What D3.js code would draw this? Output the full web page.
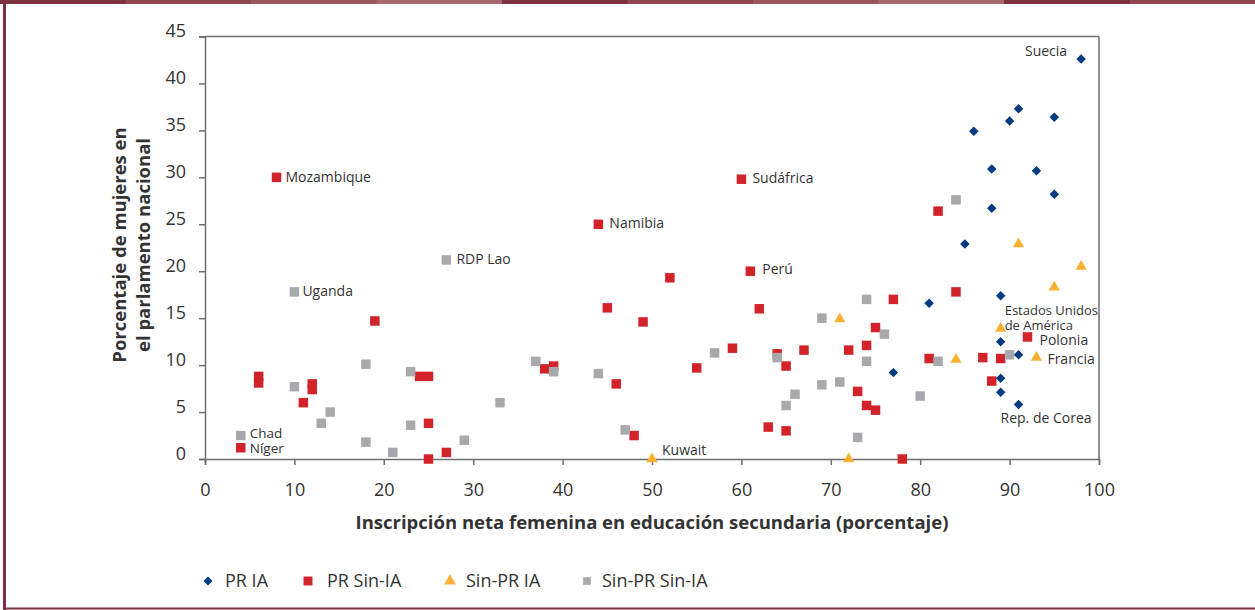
<!DOCTYPE html>
<html><head><meta charset="utf-8">
<script src="https://cdn.jsdelivr.net/npm/d3@7"></script>
<style>
html,body{margin:0;padding:0;background:#fff;}
svg{display:block;font-family:"Open Sans","Noto Sans",sans-serif;}
</style></head>
<body><svg id="c" width="1255" height="610"></svg>
<script>
// ---- data ----
const seriesNames = ["PR IA", "PR Sin-IA", "Sin-PR IA", "Sin-PR Sin-IA"];
const xTicks = [0,10,20,30,40,50,60,70,80,90,100];
const yTicks = [0,5,10,15,20,25,30,35,40,45];

const prIA = [
  [98,42.6],[91,37.3],[90,36],[95,36.4],[86,34.9],[88,30.9],[93,30.7],[95,28.2],
  [88,26.7],[85,22.9],[89,17.4],[81,16.6],[89,12.5],[91,11.1],[77,9.2],[89,8.6],
  [89,7.1],[91,5.8]
];
const prSinIA = [
  [8,30],[44,25],[60,29.8],[61,20],[52,19.3],[45,16.1],[49,14.6],[62,16],[59,11.8],
  [64,11.2],[65,9.9],[55,9.7],[38,9.6],[39,9.9],[46,8],[48,2.5],[63,3.4],[65,3],
  [6,8.8],[6,8.1],[12,8],[12,7.4],[11,6],[19,14.7],[24,8.8],[25,8.8],[25,3.8],
  [25,0],[27,0.7],[4,1.2],[67,11.6],[72,11.6],[74,12.1],[75,14],[77,17],[73,7.2],
  [74,5.7],[75,5.2],[78,0],[81,10.7],[84,17.8],[87,10.8],[89,10.7],[88,8.3],
  [92,13],[82,26.4]
];
const sinPrIA = [
  [50,0],[72,0],[71,14.9],[84,10.6],[89,13.9],[93,10.8],[95,18.3],[98,20.5],[91,22.9]
];
const sinPrSinIA = [
  [27,21.2],[10,17.8],[4,2.5],[10,7.7],[18,10.1],[23,9.3],[14,5],[13,3.8],[18,1.8],
  [21,0.7],[23,3.6],[29,2],[33,6],[37,10.4],[39,9.3],[44,9.1],[47,3.1],[57,11.3],
  [64,10.8],[65,5.7],[66,6.9],[69,15],[74,17],[76,13.3],[74,10.4],[69,7.9],[71,8.2],
  [73,2.3],[80,6.7],[82,10.4],[90,11.1],[84,27.6]
];
// labelled countries
const labelNames = [
  ["Suecia"], ["Mozambique"], ["Sudáfrica"], ["Namibia"], ["Perú"], ["RDP Lao"],
  ["Uganda"], ["Chad"], ["Níger"], ["Kuwait"], ["Estados Unidos","de América"],
  ["Polonia"], ["Francia"], ["Rep. de Corea"]
];
const labelPoints = [
  [98,42.6],[8,30],[60,29.8],[44,25],[61,20],[27,21.2],[10,17.8],[4,2.5],[4,1.2],
  [50,0],[89,13.9],[92,13],[93,10.8],[91,5.8]
];

// ---- layout / style ----
const labelOffsets = [
  [-14,-8,"end",14],[9,0,"start",14],[11,-1,"start",14],[11,-1,"start",14],[12,-2,"start",14],
  [10,-1,"start",14],[8,-1,"start",14],[9,-2,"start",13.5],[9,0.5,"start",13.5],[10,-9,"start",14],
  [4,-18,"start",13],[12,3,"start",14],[11,1,"start",14],[-18,13.5,"start",14]
];
const colors = ["#003a80","#d2232a","#fbb034","#a7a9ac"];
const axisGray = "#6d6e71";
const textCol = "#333333";

const svg = d3.select("#c");
const x = d3.scaleLinear().domain([0,100]).range([205,1099]);
const y = d3.scaleLinear().domain([0,45]).range([459,36.5]);

// frame
const frameCols = ["#7e3140","#8f4552","#9c5762","#a6696f"];
const segW = 125.5;
svg.selectAll("rect.seg").data(d3.range(10)).join("rect")
  .attr("x", i => i*segW).attr("y",0).attr("width", segW+0.5).attr("height",4)
  .attr("fill", i => frameCols[i%4]);
svg.append("rect").attr("x",3).attr("y",0).attr("width",3).attr("height",610).attr("fill","#7e3140");
svg.append("rect").attr("x",3).attr("y",607.5).attr("width",1252).attr("height",2).attr("fill","#7e3140");

// plot box top & right
svg.append("line").attr("x1",x(0)).attr("x2",x(100)).attr("y1",y(45)).attr("y2",y(45))
  .attr("stroke",axisGray).attr("stroke-width",1.5);
svg.append("line").attr("x1",x(100)).attr("x2",x(100)).attr("y1",y(45)).attr("y2",y(0))
  .attr("stroke",axisGray).attr("stroke-width",1.5);

// x axis
const xAxis = d3.axisBottom(x).tickValues(xTicks).tickSize(6).tickPadding(0).tickFormat(d3.format("d"));
const gx = svg.append("g").attr("transform",`translate(0,${y(0)})`).call(xAxis);
gx.select(".domain").attr("stroke",axisGray).attr("stroke-width",1.5);
gx.selectAll(".tick line").attr("stroke",axisGray).attr("stroke-width",1.5);
gx.selectAll(".tick text").attr("fill",textCol).attr("font-size",18)
  .attr("font-family","'Open Sans',sans-serif").attr("y",31).attr("dy","0.35em");

// y axis
const yAxis = d3.axisLeft(y).tickValues(yTicks).tickSize(6).tickPadding(0).tickFormat(d3.format("d"));
const gy = svg.append("g").attr("transform",`translate(${x(0)},0)`).call(yAxis);
gy.select(".domain").attr("stroke",axisGray).attr("stroke-width",1.5);
gy.selectAll(".tick line").attr("stroke",axisGray).attr("stroke-width",1.5);
gy.selectAll(".tick text").attr("fill",textCol).attr("font-size",18)
  .attr("font-family","'Open Sans',sans-serif").attr("x",-19).attr("dy","0.35em")
  .attr("transform","translate(0,-6)");

// axis titles
svg.append("text").attr("x",652).attr("y",523).attr("dy","0.35em").attr("text-anchor","middle")
  .attr("font-size",18.5).attr("font-weight","bold").attr("fill",textCol)
  .text("Inscripción neta femenina en educación secundaria (porcentaje)");
const yt = svg.append("text").attr("transform","translate(120,245) rotate(-90)")
  .attr("text-anchor","middle").attr("font-size",18.5).attr("font-weight","bold").attr("fill",textCol);
yt.append("tspan").attr("x",0).attr("y",0).attr("dy","0.35em").text("Porcentaje de mujeres en");
yt.append("tspan").attr("x",0).attr("y",24).attr("dy","0.35em").text("el parlamento nacional");

// markers
const sq = d3.symbol().type(d3.symbolSquare).size(90);
const tri = d3.symbol().type(d3.symbolTriangle).size(55);
const dia = d3.symbol().type(d3.symbolSquare).size(45);
function drawSeries(data, sym, col, rot){
  svg.append("g").selectAll("path").data(data).join("path")
    .attr("d", sym)
    .attr("transform", d => `translate(${x(d[0])},${y(d[1])}) rotate(${rot||0})`)
    .attr("fill", col);
}
drawSeries(prSinIA, sq, colors[1]);
drawSeries(sinPrSinIA, sq, colors[3]);
drawSeries(sinPrIA, tri, colors[2]);
drawSeries(prIA, dia, colors[0], 45);

// country labels
labelNames.forEach((lines,i) => {
  const p = labelPoints[i], o = labelOffsets[i];
  const t = svg.append("text").attr("font-size",o[3]).attr("fill",textCol).attr("text-anchor",o[2]);
  lines.forEach((ln,j) => {
    t.append("tspan").attr("x", x(p[0])+o[0]).attr("y", y(p[1])+o[1]+j*15).attr("dy","0.35em").text(ln);
  });
});

// legend
const legX = [208, 308, 450, 587];
const legTx = [225, 327, 466, 602];
const legTypes = [d3.symbolSquare, d3.symbolSquare, d3.symbolTriangle, d3.symbolSquare];
const legSizes = [40, 80, 60, 60];
const legRot = [45, 0, 0, 0];
const lg = svg.append("g");
seriesNames.forEach((n,i) => {
  lg.append("path").attr("d", d3.symbol().type(legTypes[i]).size(legSizes[i]))
    .attr("transform",`translate(${legX[i]},581) rotate(${legRot[i]})`).attr("fill",colors[i]);
  lg.append("text").attr("x",legTx[i]).attr("y",581).attr("dy","0.35em")
    .attr("font-size",18).attr("fill",textCol).text(n);
});
</script></body></html>
